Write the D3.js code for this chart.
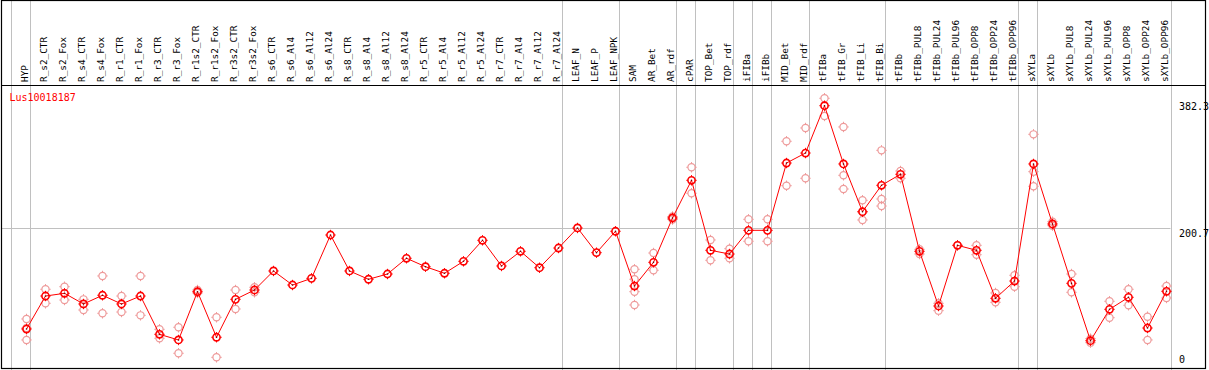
<!DOCTYPE html>
<html>
<head>
<meta charset="utf-8">
<script src="https://cdn.jsdelivr.net/npm/d3@7"></script>
<style>
  html, body { margin: 0; padding: 0; background: #fff; }
  svg { display: block; }
  text { font-family: "DejaVu Sans Mono", "Liberation Mono", monospace; }
</style>
</head>
<body>
<svg id="chart" width="1209" height="370"></svg>
<script>
const probeId = "Lus10018187";

const categories = [
  "HYP","R_s2_CTR","R_s2_Fox","R_s4_CTR","R_s4_Fox","R_r1_CTR","R_r1_Fox","R_r3_CTR","R_r3_Fox",
  "R_r1s2_CTR","R_r1s2_Fox","R_r3s2_CTR","R_r3s2_Fox","R_s6_CTR","R_s6_Al4","R_s6_Al12","R_s6_Al24",
  "R_s8_CTR","R_s8_Al4","R_s8_Al12","R_s8_Al24","R_r5_CTR","R_r5_Al4","R_r5_Al12","R_r5_Al24",
  "R_r7_CTR","R_r7_Al4","R_r7_Al12","R_r7_Al24","LEAF_N","LEAF_P","LEAF_NPK","SAM","AR_Bet","AR_rdf",
  "cPAR","TOP_Bet","TOP_rdf","iFIBa","iFIBb","MID_Bet","MID_rdf","tFIBa","tFIB_Gr","tFIB_Li","tFIB_Bi",
  "tFIBb","tFIBb_PUL8","tFIBb_PUL24","tFIBb_PUL96","tFIBb_OPP8","tFIBb_OPP24","tFIBb_OPP96",
  "sXYLa","sXYLb","sXYLb_PUL8","sXYLb_PUL24","sXYLb_PUL96","sXYLb_OPP8","sXYLb_OPP24","sXYLb_OPP96"
];

const meanValues = [
  51.5,100.4,104.4,88.6,101.5,88.6,100.4,43.7,35.3,
  106.8,39.3,95.5,109.3,137.5,116.7,126.6,190.8,
  137.5,125.2,133.0,156.3,143.8,134.1,151.8,182.9,
  144.9,166.6,142.3,171.5,201.2,164.6,196.3,115.2,150.3,216.0,
  271.8,168.1,162.6,197.7,197.7,297.4,312.2,382.3,296.0,225.3,264.4,
  280.7,166.6,85.6,175.5,168.1,97.0,122.6,
  296.0,207.1,119.2,34.2,80.7,98.5,53.0,107.4
];

const replicateValues = [
  [66.4,53.0,35.3],[110.4,89.6],[114.2,94.5],[95.5,79.7],[130.1,74.8],[100.4,76.7],[130.1,71.8],[51.1,37.8],[54.1,15.6],
  [109.3,104.9],[68.9,9.6],[109.3,81.2],[113.3,105.9],[],[],[],[],
  [],[],[],[],[],[],[],[],
  [],[],[],[],[],[],[],[140.0,125.2,106.8,87.1],[164.1,138.5],[218.2,213.7],
  [291.1,252.6],[183.4,153.3],[170.5,156.3],[214.0,181.5],[214.0,181.5],[329.6,263.8],[349.3,274.8],[393.3,367.1],[350.8,279.2,258.9],[242.2,224.9,213.0],[316.2,244.1,233.7],
  [285.6,274.8],[169.6,162.6],[89.6,78.7],[175.5],[175.5,161.6],[104.9,91.1],[131.1,114.2],
  [339.9,284.6,262.9],[210.5,204.6],[133.0,105.9],[37.2,31.3],[92.6,68.3],[110.4,86.7],[69.8,35.3],[115.2,97.5]
];

const yTickValues = [382.3, 200.7, 0];
const yTickLabels = ["382.3", "200.7", "0"];
const gridValue = 200.7;

// categories at which a new group starts (vertical separators)
const groupStarts = ["HYP","R_s2_CTR","LEAF_N","SAM","cPAR","TOP_Bet","iFIBa","iFIBb","MID_Bet","tFIBa","tFIBb","sXYLa","sXYLb"];

const svg = d3.select("#chart");
const W = 1209, H = 370;
const frame = {left: 1.5, right: 1205.5, top: 0.5, sep: 85.5, bottom: 368.5};

const x = d3.scalePoint().domain(categories).range([26.5, 26.5 + 19 * (categories.length - 1)]);
const y = d3.scaleLinear().domain([0, 382.3]).range([363.8, 105.7]);
const gridRight = x(categories[categories.length - 1]) + 4;

const red = "#ff0000";
const pink = "#ee9a9a";
const gray = "#c0c0c0";

// vertical group separators
const sepX = groupStarts.map(c => x(c) - 15.5).concat([gridRight]);
svg.append("g").selectAll("line").data(sepX).join("line")
  .attr("x1", d => Math.round(d) + 0.5).attr("x2", d => Math.round(d) + 0.5)
  .attr("y1", 0).attr("y2", H)
  .attr("stroke", gray).attr("stroke-width", 1);

// horizontal gridline
svg.append("line")
  .attr("x1", frame.left).attr("x2", gridRight)
  .attr("y1", Math.round(y(gridValue)) + 0.5).attr("y2", Math.round(y(gridValue)) + 0.5)
  .attr("stroke", gray).attr("stroke-width", 1);

// frame
const fr = svg.append("g").attr("stroke", "#000").attr("stroke-width", 1.2).attr("fill", "none");
fr.append("rect").attr("x", frame.left).attr("y", frame.top)
  .attr("width", frame.right - frame.left).attr("height", frame.bottom - frame.top);
fr.append("line").attr("x1", frame.left).attr("x2", frame.right).attr("y1", frame.sep).attr("y2", frame.sep);

// category labels (rotated)
svg.append("g").selectAll("text").data(categories).join("text")
  .attr("transform", d => `translate(${x(d) + 1.5},82) rotate(-90)`)
  .attr("font-size", "9.4px")
  .attr("fill", "#000")
  .attr("text-anchor", "start")
  .text(d => d);

// probe id
svg.append("text").attr("x", 9.5).attr("y", 101)
  .attr("font-size", "10px").attr("fill", red).text(probeId);

// right labels
const dyFor = [3.8, 8.5, -0.5];
svg.append("g").selectAll("text").data(yTickValues).join("text")
  .attr("x", 1179)
  .attr("y", (d, i) => y(d) + dyFor[i])
  .attr("font-size", "10px").attr("fill", "#000")
  .text((d, i) => yTickLabels[i]);

function marker(g, color, sw) {
  g.append("circle").attr("r", 3.6).attr("fill", "none").attr("stroke", color).attr("stroke-width", sw);
  const t = 3.6 + 1.6;
  [[0, -1], [0, 1], [-1, 0], [1, 0]].forEach(([a, b]) => {
    g.append("line").attr("x1", a * 3.6).attr("y1", b * 3.6).attr("x2", a * t).attr("y2", b * t)
      .attr("stroke", color).attr("stroke-width", 1);
  });
}

// replicate points
const reps = [];
categories.forEach((c, i) => replicateValues[i].forEach(v => reps.push({c, v})));
svg.append("g").selectAll("g").data(reps).join("g")
  .attr("transform", d => `translate(${x(d.c)},${y(d.v)})`)
  .each(function () { marker(d3.select(this), pink, 1.2); });

// mean line
const line = d3.line().x((d, i) => x(categories[i])).y(d => y(d));
svg.append("path").datum(meanValues).attr("d", line)
  .attr("fill", "none").attr("stroke", red).attr("stroke-width", 1);

// mean points
svg.append("g").selectAll("g").data(meanValues).join("g")
  .attr("transform", (d, i) => `translate(${x(categories[i])},${y(d)})`)
  .each(function () {
    const g = d3.select(this);
    marker(g, red, 1.6);
    g.append("circle").attr("r", 0.8).attr("fill", "#600");
  });
</script>
</body>
</html>
